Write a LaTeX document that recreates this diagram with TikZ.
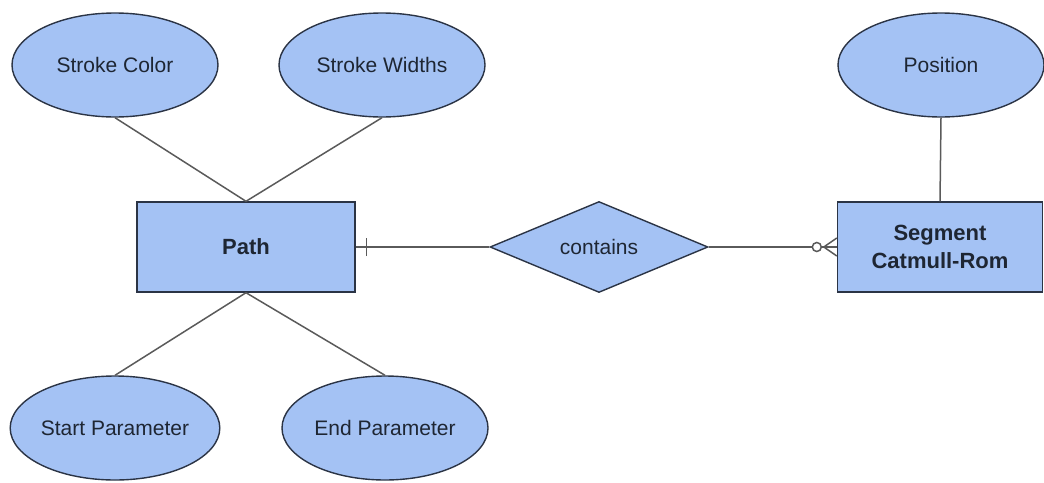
\documentclass[tikz,border=0pt]{standalone}
\usepackage{fontspec}
\setmainfont{Liberation Sans}
\usetikzlibrary{shapes.geometric}
\definecolor{erfill}{HTML}{A4C2F4}
\definecolor{erdraw}{HTML}{2B3445}
\definecolor{ertext}{HTML}{1E2633}
\definecolor{erline}{HTML}{5A5A5A}
\tikzset{
  attr/.style={ellipse, draw=erdraw, fill=erfill, line width=1.4pt, minimum width=206pt, minimum height=104pt, inner sep=0pt, text=ertext, font=\fontsize{21}{25}\selectfont},
  entity/.style={rectangle, draw=erdraw, fill=erfill, line width=1.4pt, minimum width=218pt, minimum height=90pt, inner sep=0pt, text=ertext, font=\fontsize{22}{28}\selectfont\bfseries, align=center},
  rel/.style={diamond, draw=erdraw, fill=erfill, line width=1.4pt, minimum width=218pt, minimum height=91pt, inner sep=0pt, aspect=2.4, text=ertext, font=\fontsize{21}{25}\selectfont},
  conn/.style={draw=erline, line width=1.5pt}
}
\begin{document}
\begin{tikzpicture}[x=1pt,y=-1pt]
\useasboundingbox (0,0) rectangle (1044,482);
\node[attr] (sc) at (115,65) {Stroke Color};
\node[attr] (sw) at (382,65) {Stroke Widths};
\node[attr] (pos) at (941,65) {Position};
\node[attr] (sp) at (115,428) {Start Parameter};
\node[attr] (ep) at (385,428) {End Parameter};
\node[entity] (path) at (246,247) {Path};
\node[rel, minimum width=218pt, minimum height=91pt] (cont) at (599,247) {contains};
\node[entity, minimum width=205pt] (seg) at (940,247) {Segment\\Catmull-Rom};
\draw[conn] (sc.south) -- (path.north);
\draw[conn] (sw.south) -- (path.north);
\draw[conn] (sp.north) -- (path.south);
\draw[conn] (ep.north) -- (path.south);
\draw[conn] (pos.south) -- (seg.north);
\draw[conn] (path.east) -- (cont.west);
\draw[conn] ([xshift=11pt,yshift=-9pt]path.east) -- ([xshift=11pt,yshift=9pt]path.east);
\draw[conn] (cont.east) -- ([xshift=-24pt]seg.west);
\draw[conn] ([xshift=-16pt]seg.west) -- (seg.west);
\draw[conn] ([xshift=-13pt]seg.west) -- ([yshift=-9pt]seg.west);
\draw[conn] ([xshift=-13pt]seg.west) -- ([yshift=9pt]seg.west);
\draw[conn, fill=white] ([xshift=-20pt]seg.west) circle (4.5pt);
\end{tikzpicture}
\end{document}
